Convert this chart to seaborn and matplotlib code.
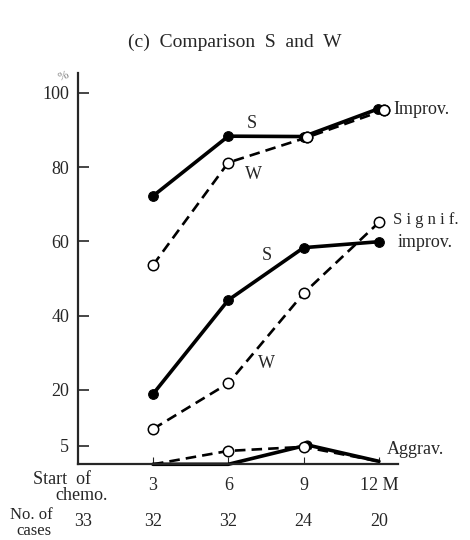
import numpy as np
import pandas as pd
import matplotlib
matplotlib.use("Agg")
import matplotlib.pyplot as plt
import matplotlib.transforms as mtransforms
import seaborn as sns

# Months after start of chemotherapy
months = [3, 6, 9, 12]

# Improvement (%)
improv_s = [72.2, 88.3, 88.2, 95.6]
improv_w = [53.6, 81.2, 88.0, 95.3]
improv_w_x = [3, 6, 9.15, 12.2]   # W points drawn slightly offset in the original
improv_s_x = [3, 6, 9, 11.95]

# Significant improvement (%)
signif_s = [18.9, 44.2, 58.3, 59.9]
signif_w = [9.5, 21.8, 46.0, 65.1]

# Aggravation (%)
aggrav_s = [0.0, 0.0, 5.2, 0.8]
aggrav_w = [0.0, 3.6, 4.7, 0.8]
aggrav_s_x = [3, 6, 9.15, 12]

# Number of cases
cases_x = [0.2, 3, 6, 9, 12]
cases = [33, 32, 32, 24, 20]

xtick_labels = ["3", "6", "9", "12 M"]
ytick_values = [5, 20, 40, 60, 80, 100]

sns.set_style("ticks")
plt.rcParams['font.family'] = ['Liberation Serif', 'DejaVu Serif']

fig = plt.figure(figsize=(4.7, 5.4), dpi=100)
ax = fig.add_axes([0.1653, 0.1402, 0.6815, 0.7246])

solid = dict(color='black', linewidth=2.6, linestyle='-', marker='o',
             markersize=7, markerfacecolor='black', markeredgecolor='black')
dashed = dict(color='black', linewidth=1.9, linestyle=(0, (4, 2.3)), marker='o',
              markersize=7.5, markerfacecolor='white', markeredgecolor='black',
              markeredgewidth=1.1)

# Improvement
sns.lineplot(x=improv_w_x, y=improv_w, ax=ax, **dashed)
sns.lineplot(x=improv_s_x, y=improv_s, ax=ax, **solid)
ax.plot(improv_w_x[-1:], improv_w[-1:], 'o', ms=7.5, mfc='white', mec='black', mew=1.1)
ax.plot(improv_w_x[2:3], improv_w[2:3], 'o', ms=7.5, mfc='white', mec='black', mew=1.1)

# Significant improvement
sns.lineplot(x=months, y=signif_w, ax=ax, **dashed)
sns.lineplot(x=months, y=signif_s, ax=ax, **solid)

# Aggravation
sns.lineplot(x=aggrav_s_x, y=aggrav_s, ax=ax, markevery=[2], clip_on=False,
             **{**solid, 'markersize': 6.5})
sns.lineplot(x=months, y=aggrav_w, ax=ax, markevery=[1, 2], clip_on=False, **dashed)

ax.set_xlim(0, 12.76)
ax.set_ylim(0, 105.3)
ax.set_xticks(months)
ax.set_xticklabels(xtick_labels, fontsize=13)
ax.set_yticks(ytick_values)
ax.set_yticklabels([str(v) for v in ytick_values], fontsize=13)
ax.tick_params(axis='y', direction='in', length=8, width=1.2, pad=6)
ax.tick_params(axis='x', direction='in', length=5, width=0.8, pad=9)
ax.set_xlabel('')
ax.set_ylabel('')

sns.despine(ax=ax)
ax.spines['left'].set_linewidth(1.6)
ax.spines['bottom'].set_linewidth(1.6)

# Series labels
ax.text(6.93, 91.8, 'S', fontsize=13, ha='center', va='center')
ax.text(7.02, 77.9, 'W', fontsize=13, ha='center', va='center')
ax.text(7.53, 56.3, 'S', fontsize=13, ha='center', va='center')
ax.text(7.53, 27.2, 'W', fontsize=13, ha='center', va='center')
ax.text(12.56, 95.4, 'Improv.', fontsize=13, ha='left', va='center')
ax.text(12.56, 65.7, 'S i g n i f.', fontsize=12, ha='left', va='center')
ax.text(12.76, 59.8, 'improv.', fontsize=13, ha='left', va='center')
ax.text(12.31, 4.0, 'Aggrav.', fontsize=13, ha='left', va='center')

# Title and axis annotations
fig.text(0.5, 1 - 42 / 540, '(c)  Comparison  S  and  W', fontsize=14,
         ha='center', va='center')
fig.text(63 / 470, 1 - 76 / 540, '%', fontsize=9, color='#888888',
         ha='center', va='center', rotation=20)
fig.text(62 / 470, 1 - 480 / 540, 'Start  of', fontsize=13, ha='center', va='center')
fig.text(82 / 470, 1 - 496 / 540, 'chemo.', fontsize=13, ha='center', va='center')
fig.text(31 / 470, 1 - 515 / 540, 'No. of', fontsize=12, ha='center', va='center')
fig.text(34 / 470, 1 - 531 / 540, 'cases', fontsize=12, ha='center', va='center')

trans = mtransforms.blended_transform_factory(ax.transData, fig.transFigure)
for cx, n in zip(cases_x, cases):
    ax.text(cx, 1 - 521 / 540, str(n), fontsize=13, ha='center', va='center',
            transform=trans)

fig.savefig('out.png', dpi=100)
